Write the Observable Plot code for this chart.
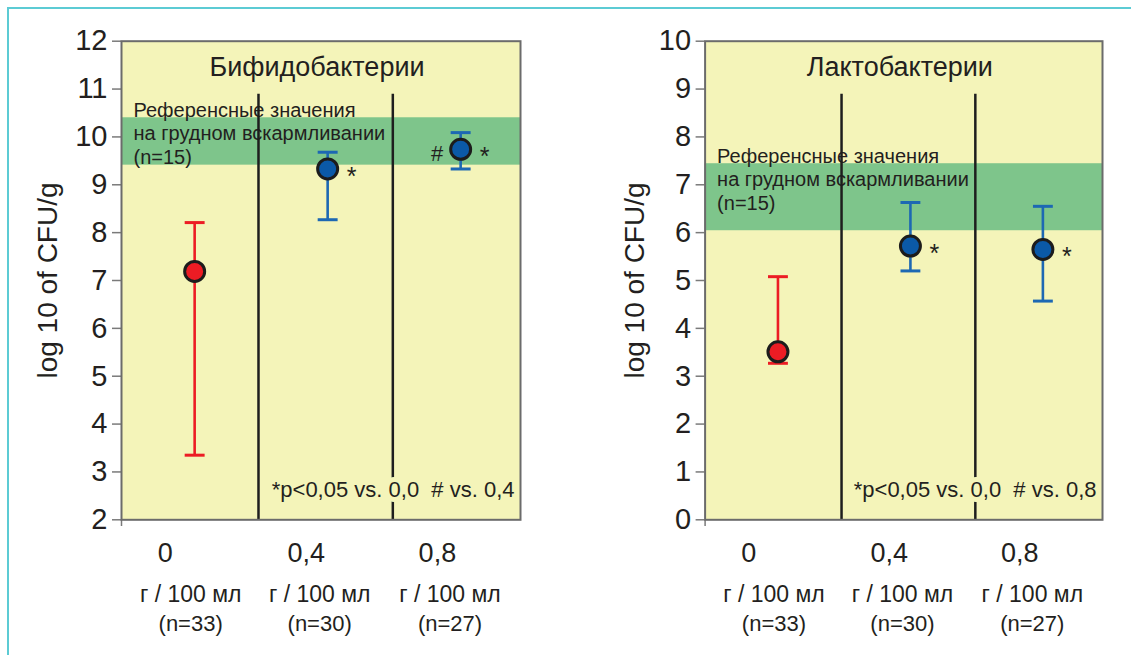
<!DOCTYPE html>
<html><head><meta charset="utf-8">
<script src="https://cdn.jsdelivr.net/npm/d3@7"></script>
<script src="https://cdn.jsdelivr.net/npm/@observablehq/plot@0.6"></script>
<style>
body{margin:0;background:#fff;}
#wrap{position:relative;width:1131px;height:655px;overflow:hidden;background:#fff;}
#border{position:absolute;left:7px;top:7px;width:1200px;height:700px;border-top:2px solid #5ccbd4;border-left:2px solid #5ccbd4;}
#left{position:absolute;left:0;top:0;}
#right{position:absolute;left:565px;top:0;}
svg{overflow:visible;}
</style></head><body>
<div id="wrap"><div id="border"></div><div id="left"></div><div id="right"></div></div>
<script>
// ---- data ----
const groups = ["0", "0,4", "0,8"];
const unitLabels = ["г / 100 мл", "г / 100 мл", "г / 100 мл"];
const nLabels = ["(n=33)", "(n=30)", "(n=27)"];
const titles = ["Бифидобактерии", "Лактобактерии"];
const yLabel = "log 10 of CFU/g";
const refText = "Референсные значения\nна грудном вскармливании\n(n=15)";
const notes = ["*p<0,05 vs. 0,0\u00a0\u00a0# vs. 0,4", "*p<0,05 vs. 0,0\u00a0\u00a0# vs. 0,8"];

const bifidoMean = [7.19, 9.33, 9.74];
const bifidoLow  = [3.35, 8.27, 9.33];
const bifidoHigh = [8.21, 9.68, 10.09];
const bifidoRef  = [9.41, 10.40];
const bifidoSig  = [{g: 1, s: "*"}, {g: 2, s: "*"}, {g: 2, s: "#"}];
const bifidoDomain = [2, 12];
const bifidoTicks = [2, 3, 4, 5, 6, 7, 8, 9, 10, 11, 12];

const lactoMean = [3.51, 5.72, 5.65];
const lactoLow  = [3.27, 5.20, 4.57];
const lactoHigh = [5.08, 6.63, 6.55];
const lactoRef  = [6.04, 7.44];
const lactoSig  = [{g: 1, s: "*"}, {g: 2, s: "*"}];
const lactoDomain = [0, 10];
const lactoTicks = [0, 1, 2, 3, 4, 5, 6, 7, 8, 9, 10];

// ---- layout / style ----
const FONT = "'Liberation Sans', Arial, sans-serif";
const INK = "#231f20";
const YELLOW = "#f4f4b9";
const GREEN = "#7ec58b";
const RED = "#ec1c24";
const BLUE_FILL = "#0b59a7";
const BLUE_BAR = "#1d68b3";
const pointX = i => i + 0.55;
const catX = [0.33, 1.39, 2.375];
const subX = [0.52, 1.49, 2.47];
const dividers = [1.03, 2.04];

function panel({title, mean, low, high, ref, sig, domain, ticks, note, width, marginLeft, marginRight, labelDx}) {
  const rows = groups.map((g, i) => ({i, mean: mean[i], low: low[i], high: high[i],
    bar: i === 0 ? RED : BLUE_BAR, fill: i === 0 ? RED : BLUE_FILL}));
  const [y0, y1] = domain;
  const cap = 0.075;
  return Plot.plot({
    width, height: 655, marginLeft, marginRight, marginTop: 40.7, marginBottom: 135.7,
    x: {domain: [0, 3], axis: null},
    y: {domain, axis: null},
    color: {type: "identity"},
    style: {fontFamily: FONT, fontSize: "20px", color: INK, background: "transparent", overflow: "visible"},
    marks: [
      Plot.frame({fill: YELLOW, stroke: "none"}),
      Plot.rect([ref], {x1: 0, x2: 3, y1: d => d[0], y2: d => d[1], fill: GREEN}),
      Plot.text([refText], {x: 0, y: ref[1], dx: 12, dy: 46, text: d => d, textAnchor: "start",
        lineAnchor: "bottom", lineHeight: 1.175, fontSize: 20, fill: INK}),
      Plot.ruleX(dividers, {x: d => d, y1: y1 - 1.11, y2: y0, stroke: "#1e1e1e", strokeWidth: 2.5}),
      Plot.text([note], {x: 3, y: y0, dx: -6, dy: -22.6, text: d => d, textAnchor: "end",
        lineAnchor: "bottom", fontSize: 22, fill: INK, stroke: YELLOW, strokeWidth: 10,
        paintOrder: "stroke", strokeLinejoin: "round"}),
      Plot.ruleX(rows, {x: d => pointX(d.i), y1: "low", y2: "high", stroke: "bar", strokeWidth: 2.6}),
      Plot.link(rows, {x1: d => pointX(d.i) - cap, x2: d => pointX(d.i) + cap, y1: "high", y2: "high", stroke: "bar", strokeWidth: 3}),
      Plot.link(rows, {x1: d => pointX(d.i) - cap, x2: d => pointX(d.i) + cap, y1: "low", y2: "low", stroke: "bar", strokeWidth: 3}),
      Plot.dot(rows, {x: d => pointX(d.i), y: "mean", r: 10, fill: "fill", stroke: "#1c1c1c", strokeWidth: 3}),
      Plot.text(sig.filter(d => d.s === "*"), {x: d => pointX(d.g), y: d => mean[d.g], text: "s",
        dx: 24, dy: 16, lineAnchor: "bottom", fontSize: 25, fill: INK}),
      Plot.text(sig.filter(d => d.s === "#"), {x: d => pointX(d.g), y: d => mean[d.g], text: "s",
        dx: -23.5, dy: 12, lineAnchor: "bottom", fontSize: 22, fill: INK}),
      Plot.text([title], {x: 1.47, y: y1, dy: 35, text: d => d, lineAnchor: "bottom", fontSize: 27, fill: INK}),
      Plot.axisY({ticks, tickSize: 9, tickPadding: 5, fontSize: 29, stroke: "#7a7a7a", strokeWidth: 1.5, label: null, fill: INK}),
      Plot.text([yLabel], {frameAnchor: "left", dx: labelDx, text: d => d, rotate: -90,
        textAnchor: "middle", lineAnchor: "middle", fontSize: 28, fill: INK}),
      Plot.text(groups, {x: (d, i) => catX[i], y: y0, dy: 42.4, text: d => d, lineAnchor: "bottom", fontSize: 27, fill: INK}),
      Plot.text(unitLabels, {x: (d, i) => subX[i], y: y0, dy: 82.4, text: d => d, lineAnchor: "bottom", fontSize: 23, fill: INK}),
      Plot.text(nLabels, {x: (d, i) => subX[i], y: y0, dy: 110.7, text: d => d, lineAnchor: "bottom", fontSize: 22, fill: INK}),
      Plot.link([0], {x1: 0, x2: 0, y1: y0, y2: y0 - 0.13, stroke: "#7a7a7a", strokeWidth: 1.5}),
      Plot.frame({stroke: "#6b6b6b", strokeWidth: 2})
    ]
  });
}

document.getElementById("left").appendChild(panel({
  title: titles[0], mean: bifidoMean, low: bifidoLow, high: bifidoHigh, ref: bifidoRef, sig: bifidoSig,
  domain: bifidoDomain, ticks: bifidoTicks, note: notes[0],
  width: 565, marginLeft: 121, marginRight: 45, labelDx: -73.5
}));
document.getElementById("right").appendChild(panel({
  title: titles[1], mean: lactoMean, low: lactoLow, high: lactoHigh, ref: lactoRef, sig: lactoSig,
  domain: lactoDomain, ticks: lactoTicks, note: notes[1],
  width: 566, marginLeft: 139.6, marginRight: 29, labelDx: -70
}));
</script>
</body></html>
